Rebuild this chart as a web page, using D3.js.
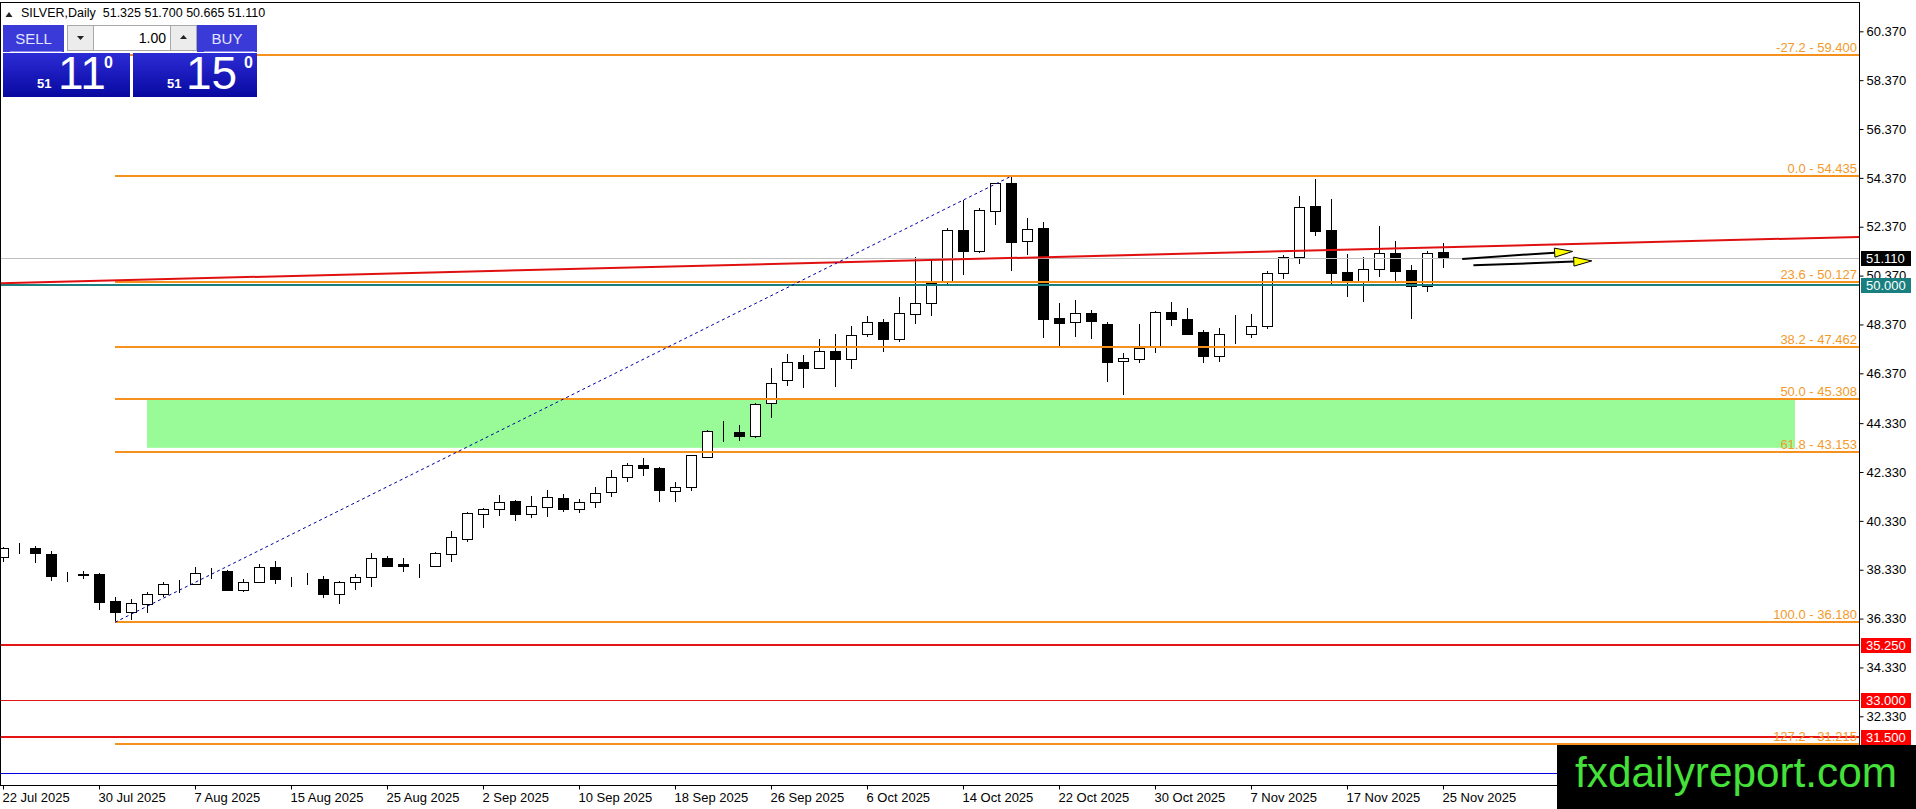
<!DOCTYPE html>
<html>
<head>
  <meta charset="utf-8">
  <title>SILVER, Daily</title>
  <style>
    body { margin: 0; background: #fff; overflow: hidden; }
    svg { display: block; font-family: "Liberation Sans", Arial, sans-serif; }
    .axis text { fill: #000; font-size: 13px; font-family: "Liberation Sans", Arial, sans-serif; }
    .axis line { stroke: #000; }
    .fib-label { fill: #f39a2a; font-size: 13px; }
  </style>
</head>
<body>
  <svg id="chart"></svg>

  <script src="https://d3js.org/d3.v7.min.js"></script>
  <script>
    // bar dates (trading days shown on the chart)
    var dates = [
      "2025-07-22","2025-07-23","2025-07-24","2025-07-25","2025-07-28","2025-07-29","2025-07-30","2025-07-31",
      "2025-08-01","2025-08-04","2025-08-05","2025-08-06","2025-08-07","2025-08-08","2025-08-11","2025-08-12",
      "2025-08-13","2025-08-14","2025-08-15","2025-08-18","2025-08-19","2025-08-20","2025-08-21","2025-08-22",
      "2025-08-25","2025-08-26","2025-08-27","2025-08-28","2025-08-29","2025-09-01","2025-09-02","2025-09-03",
      "2025-09-04","2025-09-05","2025-09-08","2025-09-09","2025-09-10","2025-09-11","2025-09-12","2025-09-15",
      "2025-09-16","2025-09-17","2025-09-18","2025-09-19","2025-09-22","2025-09-23","2025-09-24","2025-09-25",
      "2025-09-26","2025-09-29","2025-09-30","2025-10-01","2025-10-02","2025-10-03","2025-10-06","2025-10-07",
      "2025-10-08","2025-10-09","2025-10-10","2025-10-13","2025-10-14","2025-10-15","2025-10-16","2025-10-17",
      "2025-10-20","2025-10-21","2025-10-22","2025-10-23","2025-10-24","2025-10-27","2025-10-28","2025-10-29",
      "2025-10-30","2025-10-31","2025-11-03","2025-11-04","2025-11-05","2025-11-06","2025-11-07","2025-11-10",
      "2025-11-11","2025-11-12","2025-11-13","2025-11-14","2025-11-17","2025-11-18","2025-11-19","2025-11-20",
      "2025-11-21","2025-11-24","2025-11-25"
    ];

    var opens = [
      38.84,39.17,39.21,38.96,38.10,38.14,38.16,37.05,36.61,36.91,37.32,37.75,37.73,38.22,38.28,37.50,
      37.81,38.43,37.95,37.95,37.94,37.32,37.81,38.05,38.82,38.56,38.55,38.50,38.96,39.60,40.60,40.80,
      41.14,40.60,40.88,41.25,40.80,41.09,41.50,42.11,42.62,42.48,41.56,41.73,42.96,43.97,43.95,43.82,
      45.14,46.10,46.85,46.57,47.28,46.94,47.98,48.46,47.76,48.80,49.24,50.12,52.24,51.39,53.03,54.15,
      51.80,52.30,48.62,48.46,48.83,48.39,46.86,46.96,47.49,48.87,48.59,48.05,47.09,47.98,47.96,48.31,
      50.46,51.14,53.22,52.24,50.50,50.16,50.62,51.28,50.60,49.94,51.325
    ];
    var highs = [
      39.25,39.44,39.32,39.11,38.25,38.29,38.18,37.23,37.13,37.43,37.84,37.91,38.46,38.39,38.32,37.94,
      38.57,38.69,38.05,38.18,38.07,37.87,38.16,39.00,38.89,38.80,38.57,39.07,39.92,40.68,40.84,41.39,
      41.19,41.35,41.59,41.43,41.23,41.70,42.41,42.69,42.89,42.55,41.91,43.03,44.05,44.42,44.25,45.14,
      46.57,47.15,47.12,47.77,47.98,48.31,48.72,48.58,49.51,51.12,51.01,52.31,53.46,53.12,54.17,54.44,
      52.71,52.55,49.23,49.37,48.96,48.48,47.19,48.39,48.92,49.30,49.03,48.14,48.21,48.76,48.80,50.56,
      51.21,53.63,54.32,53.49,51.24,51.12,52.40,51.79,50.80,51.39,51.70
    ];
    var lows = [
      38.63,38.97,38.62,37.88,37.84,37.94,36.68,36.18,36.27,36.57,37.23,37.36,37.70,37.94,37.46,37.43,
      37.77,37.75,37.61,37.70,37.19,36.91,37.50,37.64,38.46,38.25,38.01,38.49,38.66,39.48,40.05,40.54,
      40.34,40.46,40.48,40.71,40.64,40.84,41.32,41.93,42.18,41.09,41.11,41.57,42.96,43.57,43.61,43.71,
      44.53,45.86,45.77,46.55,45.82,46.55,47.87,47.26,47.67,48.39,48.73,50.03,50.40,51.31,52.44,50.57,
      51.21,47.83,47.49,47.87,47.77,46.03,45.48,46.81,47.22,48.32,47.94,46.81,46.85,47.57,47.83,48.20,
      50.22,50.83,52.00,50.03,49.51,49.30,50.33,50.16,48.58,49.69,50.665
    ];
    var closes = [
      39.21,39.18,39.00,38.09,38.13,38.12,37.02,36.61,36.96,37.32,37.75,37.76,38.18,38.24,37.50,37.81,
      38.43,37.94,37.94,37.96,37.32,37.81,38.05,38.80,38.50,38.49,38.56,39.00,39.66,40.64,40.80,41.12,
      40.60,40.94,41.30,40.80,41.09,41.49,42.11,42.62,42.48,41.59,41.73,43.03,44.01,43.98,43.82,45.10,
      45.96,46.85,46.57,47.28,46.94,47.94,48.46,47.77,48.83,49.24,50.05,52.24,51.39,53.06,54.15,51.76,
      52.26,48.59,48.44,48.83,48.53,46.85,46.98,47.42,48.87,48.59,47.98,47.09,47.98,47.99,48.30,50.46,
      51.14,53.19,52.21,50.46,50.16,50.64,51.28,50.57,49.94,51.28,51.11
    ];

    // axis labels
    var priceTicks = [60.37, 58.37, 56.37, 54.37, 52.37, 50.37, 48.37, 46.37, 44.33, 42.33, 40.33, 38.33, 36.33, 34.33, 32.33];
    var dateTicks = ["2025-07-22","2025-07-30","2025-08-07","2025-08-15","2025-08-25","2025-09-02","2025-09-10","2025-09-18",
                     "2025-09-26","2025-10-06","2025-10-14","2025-10-22","2025-10-30","2025-11-07","2025-11-17","2025-11-25"];

    // fibonacci retracement (anchored low bar 31 Jul -> high bar 17 Oct)
    var fibLevels = [-27.2, 0.0, 23.6, 38.2, 50.0, 61.8, 100.0, 127.2];
    var fibPrices = [59.400, 54.435, 50.127, 47.462, 45.308, 43.153, 36.180, 31.215];
    var fibAnchorDates = ["2025-07-31", "2025-10-17"];
    var fibAnchorPrices = [36.180, 54.435];

    // horizontal levels
    var supportLevels = [35.25, 33.00, 31.50];
    var roundLevel = 50.00;
    var lowerLevel = 30.00;
    var bidPrice = 51.11;

    // rising trend line (bar index, price)
    var trendBars = [0, 90];
    var trendPrices = [50.06, 51.53];

    // green zone (bar index from/to, price bottom/top)
    var zoneBars = [9, 112];
    var zonePrices = [43.32, 45.31];

    // projection arrows: [bar, price] from / to
    var arrowsFrom = [[91.2, 51.05], [91.9, 50.79]];
    var arrowsTo = [[98.1, 51.36], [99.3, 50.97]];

    var header = "SILVER,Daily  51.325 51.700 50.665 51.110";

    // ---- layout ----
    var W = 1916, H = 809;
    var plotL = 1, plotT = 2.5, plotR = 1859, plotB = 785;

    var svg = d3.select("#chart").attr("width", W).attr("height", H);
    var defs = svg.append("defs");

    var x = d3.scaleLinear().domain([0, 90]).range([3, 1443]);
    var y = d3.scaleLinear().domain([60.37, 32.33]).range([31.3, 716.3]);
    var idx = function(d) { return dates.indexOf(d); };
    var parse = d3.timeParse("%Y-%m-%d");
    var fmtDate = d3.timeFormat("%-d %b %Y");
    var loc = d3.formatLocale({ decimal: ".", thousands: ",", grouping: [3], currency: ["", ""], minus: "-" });
    var f1 = loc.format(".1f"), f3 = loc.format(".3f");

    defs.append("clipPath").attr("id", "plotclip")
      .append("rect").attr("x", plotL).attr("y", plotT).attr("width", plotR - plotL).attr("height", plotB - plotT);

    var plot = svg.append("g").attr("clip-path", "url(#plotclip)");

    // green zone
    plot.append("rect")
      .attr("x", x(zoneBars[0])).attr("width", x(zoneBars[1]) - x(zoneBars[0]))
      .attr("y", y(zonePrices[1])).attr("height", y(zonePrices[0]) - y(zonePrices[1]))
      .attr("fill", "#98fb98");

    // candles
    var bars = d3.range(dates.length);
    var candles = plot.append("g").attr("shape-rendering", "crispEdges");
    candles.selectAll("line").data(bars).enter().append("line")
      .attr("x1", function(i) { return Math.round(x(i)) + 0.5; })
      .attr("x2", function(i) { return Math.round(x(i)) + 0.5; })
      .attr("y1", function(i) { return Math.round(y(highs[i])); })
      .attr("y2", function(i) { return Math.round(y(lows[i])); })
      .attr("stroke", "#000");
    candles.selectAll("rect").data(bars).enter().append("rect")
      .attr("x", function(i) { return Math.round(x(i)) - 5 + 0.5; })
      .attr("width", 10)
      .attr("y", function(i) { return Math.round(y(Math.max(opens[i], closes[i]))) + 0.5; })
      .attr("height", function(i) {
        return Math.max(0, Math.round(y(Math.min(opens[i], closes[i]))) - Math.round(y(Math.max(opens[i], closes[i]))));
      })
      .attr("fill", function(i) { return closes[i] >= opens[i] ? "#fff" : "#000"; })
      .attr("stroke", "#000");

    // horizontal lines
    var hl = plot.append("g").attr("shape-rendering", "crispEdges");
    hl.append("line").attr("x1", plotL).attr("x2", plotR)
      .attr("y1", Math.round(y(bidPrice)) + 0.5).attr("y2", Math.round(y(bidPrice)) + 0.5)
      .attr("stroke", "#c0c0c0");
    hl.append("line").attr("x1", plotL).attr("x2", plotR)
      .attr("y1", Math.round(y(lowerLevel)) + 0.5).attr("y2", Math.round(y(lowerLevel)) + 0.5)
      .attr("stroke", "#0000e0");
    hl.selectAll(".fib").data(fibPrices).enter().append("line").attr("class", "fib")
      .attr("x1", x(idx(fibAnchorDates[0]))).attr("x2", plotR)
      .attr("y1", function(d) { return Math.round(y(d)); })
      .attr("y2", function(d) { return Math.round(y(d)); })
      .attr("stroke", "#f5911c").attr("stroke-width", 2);
    hl.selectAll(".sup").data(supportLevels).enter().append("line").attr("class", "sup")
      .attr("x1", plotL).attr("x2", plotR)
      .attr("y1", function(d) { return Math.round(y(d)) + (d === 33 ? 0.5 : 0); })
      .attr("y2", function(d) { return Math.round(y(d)) + (d === 33 ? 0.5 : 0); })
      .attr("stroke", "#e51414").attr("stroke-width", function(d) { return d === 33 ? 1 : 2; });
    hl.append("line").attr("x1", plotL).attr("x2", plotR)
      .attr("y1", Math.round(y(roundLevel))).attr("y2", Math.round(y(roundLevel)))
      .attr("stroke", "#1a7f7f").attr("stroke-width", 2);

    // trend line across the whole plot
    var slope = (y(trendPrices[1]) - y(trendPrices[0])) / (x(trendBars[1]) - x(trendBars[0]));
    var ty = function(px) { return y(trendPrices[0]) + (px - x(trendBars[0])) * slope; };
    plot.append("line").attr("x1", plotL).attr("y1", ty(plotL)).attr("x2", plotR).attr("y2", ty(plotR))
      .attr("stroke", "#e01010").attr("stroke-width", 2);

    // fib anchor line
    plot.append("line")
      .attr("x1", x(idx(fibAnchorDates[0]))).attr("y1", y(fibAnchorPrices[0]))
      .attr("x2", x(idx(fibAnchorDates[1]))).attr("y2", y(fibAnchorPrices[1]))
      .attr("stroke", "#0000a0").attr("stroke-width", 1).attr("stroke-dasharray", "3,3");

    // arrows
    arrowsFrom.forEach(function(a, k) {
      var b = arrowsTo[k];
      var x0 = x(a[0]), y0 = y(a[1]), x1 = x(b[0]), y1 = y(b[1]);
      var ang = Math.atan2(y1 - y0, x1 - x0), len = 18, hw = 4.5;
      var hx = x1 - len * Math.cos(ang), hy = y1 - len * Math.sin(ang);
      plot.append("line").attr("x1", x0).attr("y1", y0).attr("x2", hx).attr("y2", hy)
        .attr("stroke", "#000").attr("stroke-width", 2);
      var pts = [[x1, y1],
        [hx - hw * Math.sin(ang), hy + hw * Math.cos(ang)],
        [hx + hw * Math.sin(ang), hy - hw * Math.cos(ang)]];
      plot.append("polygon").attr("points", pts.map(function(p) { return p.join(","); }).join(" "))
        .attr("fill", "#ffff00").attr("stroke", "#000").attr("stroke-width", 1);
    });

    // fib labels
    plot.selectAll(".fib-label").data(fibPrices).enter().append("text").attr("class", "fib-label")
      .attr("x", plotR - 2).attr("y", function(d) { return Math.round(y(d)) - 3; })
      .attr("text-anchor", "end")
      .text(function(d, k) { return f1(fibLevels[k]) + " - " + f3(d); });

    // frame
    svg.append("rect").attr("x", 0.5).attr("y", plotT).attr("width", plotR - 0.5).attr("height", plotB + 0.5 - plotT)
      .attr("fill", "none").attr("stroke", "#000").attr("shape-rendering", "crispEdges");

    // price axis
    var yAxis = svg.append("g").attr("class", "axis").attr("transform", "translate(" + (plotR + 0.5) + ",0)")
      .call(d3.axisRight(y).tickValues(priceTicks).tickSize(4).tickPadding(3).tickFormat(f3));
    yAxis.select(".domain").remove();
    yAxis.attr("font-size", null).attr("font-family", null);

    // date axis
    var xAxis = svg.append("g").attr("class", "axis").attr("transform", "translate(0," + (plotB + 0.5) + ")")
      .call(d3.axisBottom(x).tickValues(dateTicks.map(idx)).tickSize(4).tickPadding(3)
        .tickFormat(function(i) { return fmtDate(parse(dates[i])); }));
    xAxis.select(".domain").remove();
    xAxis.attr("font-size", null).attr("font-family", null);
    xAxis.selectAll("text").attr("text-anchor", "start").attr("dx", -1);

    // axis price boxes
    var boxes = [
      { p: bidPrice, bg: "#000" },
      { p: roundLevel, bg: "#1a7f7f" }
    ].concat(supportLevels.map(function(d) { return { p: d, bg: "#ff0000" }; }));
    var boxG = svg.append("g");
    boxes.forEach(function(b) {
      var cy = Math.round(y(b.p));
      boxG.append("rect").attr("x", plotR + 2).attr("y", cy - 7).attr("width", 50).attr("height", 15).attr("fill", b.bg);
      boxG.append("text").attr("x", plotR + 7).attr("y", cy + 5).attr("fill", "#fff").attr("font-size", 13).text(f3(b.p));
    });

    // header
    svg.append("polygon").attr("points", "5.5,17 12.5,17 9,12").attr("fill", "#222");
    svg.append("text").attr("x", 21).attr("y", 17).attr("font-size", 12.5).attr("fill", "#000")
      .style("white-space", "pre").text(header);

    // one-click trading panel
    var grad = defs.append("linearGradient").attr("id", "pg").attr("x1", 0).attr("y1", 0).attr("x2", 0).attr("y2", 1);
    grad.append("stop").attr("offset", 0).attr("stop-color", "#2c2cd6");
    grad.append("stop").attr("offset", 1).attr("stop-color", "#0808a0");
    var panel = svg.append("g");
    [[3, 61, "SELL"], [197, 60, "BUY"]].forEach(function(b) {
      panel.append("rect").attr("x", b[0]).attr("y", 25).attr("width", b[1]).attr("height", 27).attr("fill", "#3a3ad8");
      panel.append("line").attr("x1", b[0] + 7).attr("x2", b[0] + b[1] - 2).attr("y1", 51.5).attr("y2", 51.5).attr("stroke", "#8c8cf0");
      panel.append("text").attr("x", b[0] + b[1] / 2).attr("y", 44).attr("text-anchor", "middle")
        .attr("font-size", 15).attr("fill", "#e4e4ff").text(b[2]);
    });
    panel.append("rect").attr("x", 67.5).attr("y", 25.5).attr("width", 26).attr("height", 25).attr("fill", "#ececec").attr("stroke", "#a8a8a8");
    panel.append("rect").attr("x", 93.5).attr("y", 25.5).attr("width", 77).attr("height", 25).attr("fill", "#fff").attr("stroke", "#a8a8a8");
    panel.append("rect").attr("x", 170.5).attr("y", 25.5).attr("width", 26).attr("height", 25).attr("fill", "#ececec").attr("stroke", "#a8a8a8");
    panel.append("polygon").attr("points", "77,36 84,36 80.5,40").attr("fill", "#222");
    panel.append("polygon").attr("points", "180,39 187,39 183.5,35").attr("fill", "#222");
    panel.append("text").attr("x", 166).attr("y", 43).attr("text-anchor", "end").attr("font-size", 14).attr("fill", "#000").text("1.00");
    [[3, 127, "11", 37, 58, 104], [133, 124, "15", 167, 186, 244]].forEach(function(b) {
      panel.append("rect").attr("x", b[0]).attr("y", 53).attr("width", b[1]).attr("height", 44).attr("fill", "url(#pg)");
      panel.append("text").attr("x", b[3]).attr("y", 88).attr("font-size", 13).attr("font-weight", "bold").attr("fill", "#fff").text("51");
      panel.append("text").attr("x", b[4]).attr("y", 89).attr("font-size", 46).attr("fill", "#fff").text(b[2]);
      panel.append("text").attr("x", b[5]).attr("y", 68).attr("font-size", 16).attr("font-weight", "bold").attr("fill", "#fff").text("0");
    });

    // watermark
    svg.append("rect").attr("x", 1557).attr("y", 745).attr("width", 359).attr("height", 64).attr("fill", "#000");
    svg.append("text").attr("x", 1575).attr("y", 787).attr("font-size", 42).attr("fill", "#46e03a")
      .attr("textLength", 322).attr("lengthAdjust", "spacingAndGlyphs").text("fxdailyreport.com");
  </script>
</body>
</html>
